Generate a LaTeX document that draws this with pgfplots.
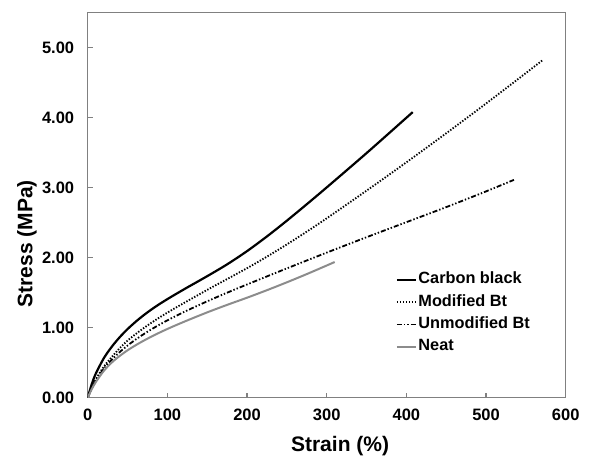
\documentclass[border=0pt]{standalone}
\usepackage{fontspec}
\setmainfont{Liberation Sans}
\usepackage{pgfplots}
\pgfplotsset{compat=1.18}
\definecolor{axisgray}{gray}{0.5}
\definecolor{neatgray}{gray}{0.55}
\begin{document}
\begin{tikzpicture}
\path[use as bounding box] (-87.7pt,-61.3pt) rectangle (502.3pt,397.7pt);
\begin{axis}[
  at={(0pt,0pt)}, anchor=south west,
  scale only axis, width=478pt, height=385pt,
  xmin=0, xmax=600, ymin=0, ymax=5.5,
  xtick={0,100,...,600}, ytick={0,1,...,5},
  tick align=inside, xtick pos=left, ytick pos=left,
  major tick length=5pt,
  axis line style={axisgray, line width=1.3pt},
  tick style={axisgray, line width=1.2pt},
  /pgf/number format/assume math mode=true,
  ticklabel style={font=\fontsize{16.5}{19}\selectfont\bfseries},
  y tick label style={/pgf/number format/fixed, /pgf/number format/fixed zerofill, /pgf/number format/precision=2, xshift=-10pt},
  x tick label style={yshift=-8pt},
  xlabel={Strain (\%)}, ylabel={Stress (MPa)},
  label style={font=\fontsize{21}{25}\selectfont\bfseries},
  xlabel style={at={(axis description cs:0.528,-0.125)}, anchor=center},
  ylabel style={at={(axis description cs:-0.127,0.4)}, anchor=center},
  legend style={at={(axis description cs:0.644,0.330)}, anchor=north west, draw=none, fill=none,
    row sep=4.3pt, inner sep=0pt,
    nodes={inner sep=1.5pt, text height=11.5pt, text depth=3.5pt, font=\fontsize{16.3}{19}\selectfont\bfseries}},
  legend cell align=left,
  legend image code/.code={\draw[#1] (0pt,0pt) -- (19pt,0pt);},
]
\addplot[black, line width=2.2pt, smooth] coordinates {
(0,0) (5,0.19) (10,0.34) (20,0.56) (30,0.725) (40,0.862) (50,0.98) (60,1.083) (70,1.176) (80,1.26) (90,1.337) (100,1.408) (110,1.476) (125,1.575) (150,1.736) (175,1.905) (200,2.094) (225,2.304) (250,2.529) (275,2.764) (300,3.004) (350,3.494) (400,3.999) (408,4.08)};
\addlegendentry{Carbon black}
\addplot[black, line width=1.8pt, dash pattern=on 1.4pt off 1.6pt, smooth] coordinates {
(0,0) (5,0.14) (10,0.26) (20,0.44) (30,0.58) (40,0.705) (50,0.815) (60,0.907) (70,0.992) (80,1.071) (90,1.145) (100,1.215) (110,1.282) (125,1.38) (150,1.54) (175,1.695) (200,1.85) (225,2.015) (250,2.19) (275,2.3725) (300,2.5625) (350,2.9575) (400,3.3625) (450,3.7775) (500,4.2025) (550,4.6375) (571,4.822)};
\addlegendentry{Modified Bt}
\addplot[black, line width=1.8pt, dash pattern=on 5pt off 2pt on 1.4pt off 2pt on 1.4pt off 2pt, smooth] coordinates {
(0,0) (5,0.13) (10,0.24) (20,0.41) (30,0.54) (40,0.65) (50,0.745) (60,0.829) (70,0.906) (80,0.977) (90,1.043) (100,1.105) (110,1.164) (125,1.247) (150,1.377) (175,1.50) (200,1.6175) (250,1.8475) (300,2.0725) (350,2.2925) (400,2.5075) (450,2.7225) (500,2.9475) (535,3.112)};
\addlegendentry{Unmodified Bt}
\addplot[neatgray, line width=2pt, smooth] coordinates {
(0,0) (5,0.12) (10,0.22) (20,0.38) (30,0.50) (40,0.595) (50,0.677) (60,0.748) (70,0.813) (80,0.873) (90,0.929) (100,0.982) (110,1.032) (125,1.104) (150,1.219) (175,1.326) (200,1.4285) (225,1.536) (250,1.6485) (275,1.766) (300,1.8885) (310,1.9385)};
\addlegendentry{Neat}
\end{axis}
\end{tikzpicture}
\end{document}
